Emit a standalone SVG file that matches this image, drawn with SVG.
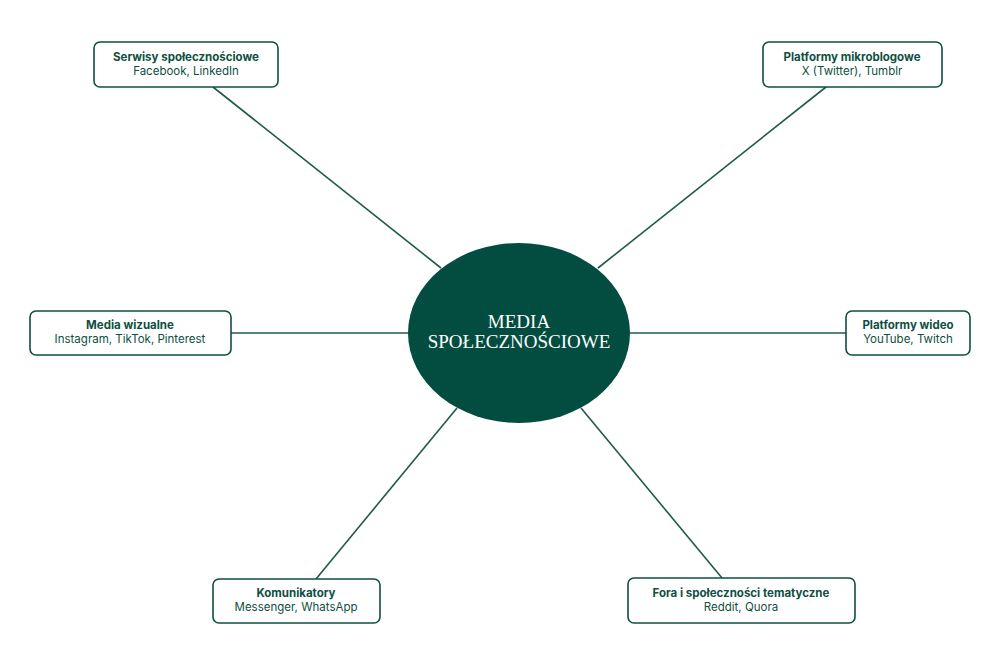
<svg xmlns="http://www.w3.org/2000/svg" width="1000" height="667" viewBox="0 0 1000 667">
<style>
.b{fill:#fff;stroke:#0e4f42;stroke-width:1.6}
.t{font-family:Inter,"Open Sans",sans-serif;font-size:11.5px;font-weight:700;fill:#0e4f42;text-anchor:middle}
.s{font-family:Inter,"Open Sans",sans-serif;font-size:11.5px;fill:#0e4f42;text-anchor:middle}
.c line{stroke:#1f5a4c;stroke-width:1.6}
</style>
<rect width="1000" height="667" fill="#fff"/>
<g class="c" id="connectors">
<line x1="213" y1="87" x2="441" y2="268"/>
<line x1="826" y1="87" x2="598" y2="268"/>
<line x1="231" y1="333" x2="408" y2="333"/>
<line x1="630" y1="333" x2="846" y2="333"/>
<line x1="316" y1="579" x2="457" y2="408"/>
<line x1="722" y1="578" x2="581" y2="408"/>
</g>
<g id="center">
<ellipse cx="519" cy="333" rx="111" ry="90" fill="#024d40"/>
<text x="519" y="328" font-family="'Liberation Serif',serif" font-size="19" fill="#fff" text-anchor="middle">MEDIA</text>
<text x="519" y="348" font-family="'Liberation Serif',serif" font-size="19" fill="#fff" text-anchor="middle">SPOŁECZNOŚCIOWE</text>
</g>
<g id="n1"><rect class="b" x="94" y="42" width="184" height="45" rx="6"/><text class="t" x="186" y="61">Serwisy społecznościowe</text><text class="s" x="186" y="75">Facebook, LinkedIn</text></g>
<g id="n2"><rect class="b" x="763" y="42" width="179" height="45" rx="6"/><text class="t" x="852" y="61">Platformy mikroblogowe</text><text class="s" x="852" y="75">X (Twitter), Tumblr</text></g>
<g id="n3"><rect class="b" x="30" y="311" width="201" height="44" rx="6"/><text class="t" x="130" y="329">Media wizualne</text><text class="s" x="130" y="343">Instagram, TikTok, Pinterest</text></g>
<g id="n4"><rect class="b" x="846" y="311" width="124" height="44" rx="6"/><text class="t" x="908" y="329">Platformy wideo</text><text class="s" x="908" y="343">YouTube, Twitch</text></g>
<g id="n5"><rect class="b" x="213" y="579" width="167" height="44" rx="6"/><text class="t" x="296" y="597">Komunikatory</text><text class="s" x="296" y="611">Messenger, WhatsApp</text></g>
<g id="n6"><rect class="b" x="628" y="578" width="227" height="45" rx="6"/><text class="t" x="741" y="597">Fora i społeczności tematyczne</text><text class="s" x="741" y="611">Reddit, Quora</text></g>
</svg>
